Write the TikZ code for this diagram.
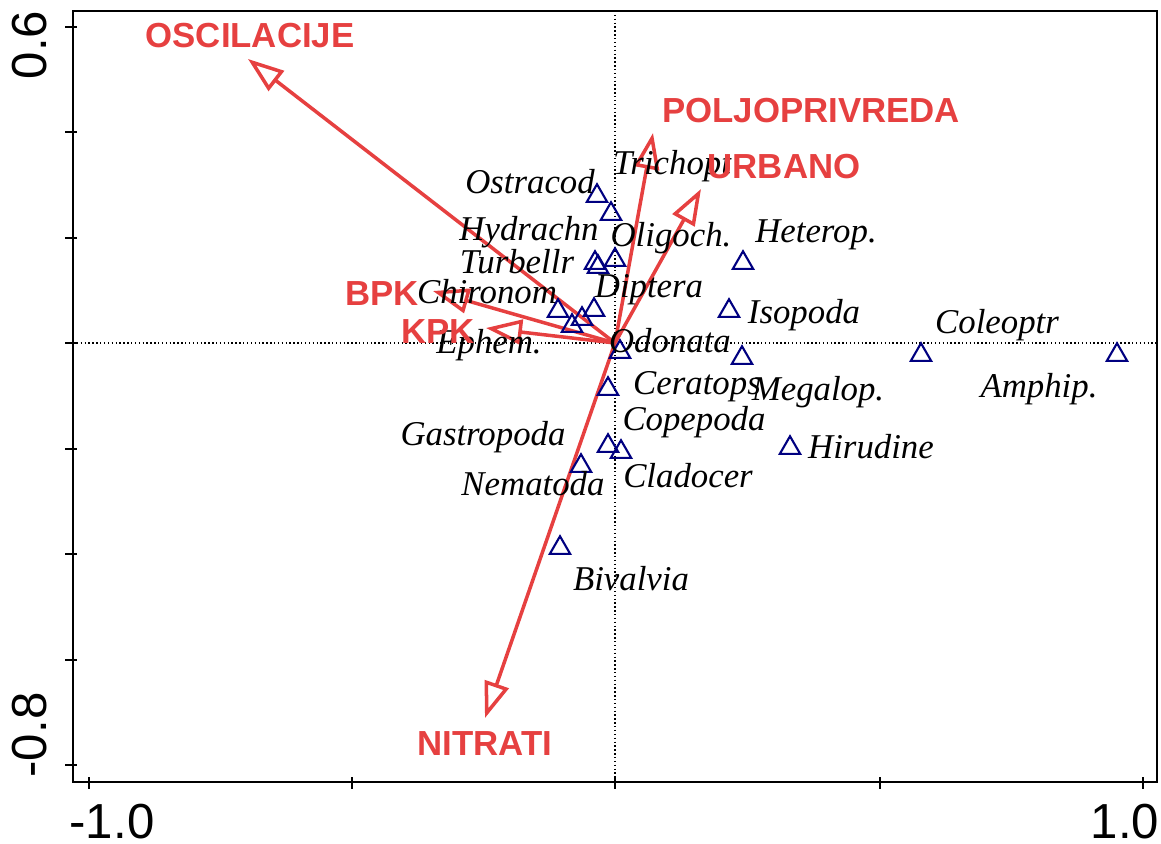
\documentclass[tikz,border=0pt]{standalone}
\usepackage{fontspec}
\setmainfont{Liberation Sans}
\newfontfamily\taxfont{Liberation Serif}
\usetikzlibrary{arrows.meta,shapes.geometric}
\definecolor{envred}{RGB}{230,64,64}
\definecolor{sitenavy}{RGB}{0,0,128}
\begin{document}
\begin{tikzpicture}[
  x=0.02cm, y=-0.02cm,
  taxon/.style={font=\fontsize{19.8}{20}\taxfont\itshape, inner sep=0pt, anchor=base},
  env/.style={font=\fontsize{19.8}{20}\selectfont\bfseries, text=envred, inner sep=0pt, anchor=base},
  site/.style={draw=sitenavy, regular polygon, regular polygon sides=3, minimum size=0.47cm, inner sep=0pt, line width=1.2pt},
  vec/.style={draw=envred, line width=2pt, -{Triangle[open, length=0.72cm, width=0.5cm]}},
  axtick/.style={line width=1.2pt},
  numlab/.style={font=\fontsize{28}{28}\selectfont, inner sep=0pt},
]
  \useasboundingbox (0,0) rectangle (1161,843);

  \draw[line width=0.6pt, dash pattern=on 0.8pt off 1.4pt] (73,343) -- (1157,343) (615,11) -- (615,782);
  \draw[line width=1.4pt] (73,11) rectangle (1157,782);
  \draw[axtick] (65,27) -- (77,27) (65,132) -- (77,132) (65,238) -- (77,238) (65,343) -- (77,343)
                (65,449) -- (77,449) (65,554) -- (77,554) (65,660) -- (77,660) (65,765) -- (77,765);
  \draw[axtick] (89,777) -- (89,789) (352,777) -- (352,789) (615,777) -- (615,789)
                (880,777) -- (880,789) (1143,777) -- (1143,789);
  \node[numlab, rotate=90] (ymax) at (30,45)   {0.6};
  \node[numlab, rotate=90] (ymin) at (30,735)  {-0.8};
  \node[numlab]            (xmin) at (112,822) {-1.0};
  \node[numlab]            (xmax) at (1125,822) {1.0};

  \coordinate (o) at (615,343);
  \coordinate (osc) at (248,59);
  \coordinate (polj) at (653,133);
  \coordinate (urb) at (701,189);
  \coordinate (bpk) at (433,291);
  \coordinate (kpk) at (486,328);
  \coordinate (nit) at (485,718);
  \draw[vec] (o) -- (osc);
  \draw[vec] (o) -- (polj);
  \draw[vec] (o) -- (urb);
  \draw[vec] (o) -- (bpk);
  \draw[vec] (o) -- (kpk);
  \draw[vec] (o) -- (nit);

  \node[site] (s-ostracod) at (597,196) {};
  \node[site] (s-trichopt) at (611,214) {};
  \node[site] (s-hydrachn) at (595,263) {};
  \node[site] (s-turbellr) at (598,267) {};
  \node[site] (s-oligoch)  at (615,260) {};
  \node[site] (s-chironom) at (558,311) {};
  \node[site] (s-ephem)    at (572,326) {};
  \node[site] (s-gastro)   at (582,319) {};
  \node[site] (s-diptera)  at (594,310) {};
  \node[site] (s-odonata)  at (620,352) {};
  \node[site] (s-ceratops) at (608,389) {};
  \node[site] (s-heterop)  at (743,263) {};
  \node[site] (s-isopoda)  at (729,311) {};
  \node[site] (s-megalop)  at (742,358) {};
  \node[site] (s-copepoda) at (608,446) {};
  \node[site] (s-cladocer) at (621,452) {};
  \node[site] (s-nematoda) at (581,466) {};
  \node[site] (s-bivalvia) at (560,548) {};
  \node[site] (s-coleoptr) at (921,355) {};
  \node[site] (s-amphip)   at (1117,355) {};
  \node[site] (s-hirudine) at (790,448) {};

  \node[taxon] (trichopt) at (672,174) {Trichopt};
  \node[taxon] (ostracod) at (530,193) {Ostracod};
  \node[taxon] (hydrachn) at (529,240) {Hydrachn};
  \node[taxon] (oligoch)  at (671,246) {Oligoch.};
  \node[taxon] (turbellr) at (517,273) {Turbellr};
  \node[taxon] (chironom) at (487,303) {Chironom};
  \node[taxon] (diptera)  at (649,297) {Diptera};
  \node[taxon] (ephem)    at (489,353) {Ephem.};
  \node[taxon] (odonata)  at (670,352) {Odonata};
  \node[taxon] (heterop)  at (816,242) {Heterop.};
  \node[taxon] (isopoda)  at (804,323) {Isopoda};
  \node[taxon] (coleoptr) at (997,333) {Coleoptr};
  \node[taxon] (amphip)   at (1039,397) {Amphip.};
  \node[taxon] (megalop)  at (818,400) {Megalop.};
  \node[taxon] (ceratops) at (697,394) {Ceratops};
  \node[taxon] (copepoda) at (694,430) {Copepoda};
  \node[taxon] (gastro)   at (483,445) {Gastropoda};
  \node[taxon] (nematoda) at (533,495) {Nematoda};
  \node[taxon] (cladocer) at (688,487) {Cladocer};
  \node[taxon] (hirudine) at (871,458) {Hirudine};
  \node[taxon] (bivalvia) at (631,590) {Bivalvia};

  \node[env] (l-osc)  at (250,47)  {OSCILACIJE};
  \node[env] (l-polj) at (811,122) {POLJOPRIVREDA};
  \node[env] (l-urb)  at (784,178) {URBANO};
  \node[env] (l-bpk)  at (382,305) {BPK};
  \node[env] (l-kpk)  at (438,343) {KPK};
  \node[env] (l-nit)  at (485,755) {NITRATI};
\end{tikzpicture}
\end{document}
